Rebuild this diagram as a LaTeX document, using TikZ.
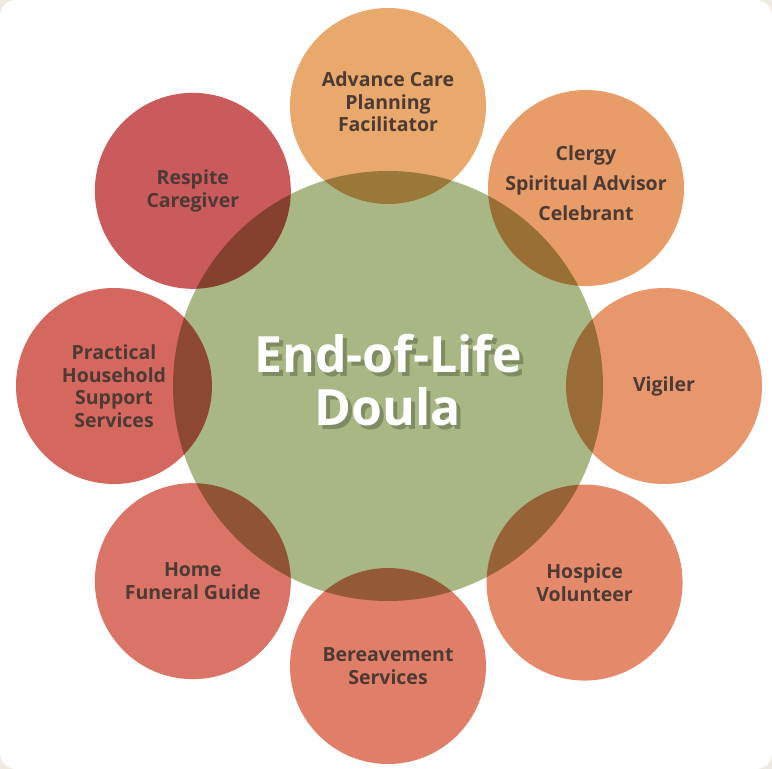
\documentclass[tikz,border=0pt]{standalone}
\usepackage{fontspec}
\setmainfont{Open Sans}
\newfontfamily\roleFont{Open Sans}
\usetikzlibrary{positioning, calc}
\definecolor{edlHub}{HTML}{A9B784}
\definecolor{edlHubShadow}{HTML}{7F8B62}
\definecolor{edlAcp}{HTML}{E9A86C}
\definecolor{edlClergy}{HTML}{E89C68}
\definecolor{edlVigil}{HTML}{E8966C}
\definecolor{edlHospice}{HTML}{E48A6A}
\definecolor{edlBereave}{HTML}{E07E68}
\definecolor{edlFuneral}{HTML}{DA7466}
\definecolor{edlPractical}{HTML}{D4675E}
\definecolor{edlRespite}{HTML}{CB5A5C}
\definecolor{edlText}{HTML}{4D3A34}
\definecolor{edlFrame}{HTML}{EFEAE0}
\tikzset{
    edlRoleBase/.style={
        circle,
        minimum size=196pt,
        inner sep=0pt,
        text=edlText,
        font=\roleFont\bfseries\fontsize{19.5}{22.5}\selectfont,
        align=center
    },
    % Role variants
    acp/.style={edlRoleBase, fill=edlAcp},
    clergy/.style={edlRoleBase, fill=edlClergy},
    vigil/.style={edlRoleBase, fill=edlVigil},
    hospice/.style={edlRoleBase, fill=edlHospice},
    bereave/.style={edlRoleBase, fill=edlBereave},
    funeral/.style={edlRoleBase, fill=edlFuneral},
    practical/.style={edlRoleBase, fill=edlPractical},
    respite/.style={edlRoleBase, fill=edlRespite},
    % Hub
    edlHubCircle/.style={circle, fill=edlHub, minimum size=430pt, inner sep=0pt},
    edlTitle/.style={
        font=\bfseries\fontsize{50}{53}\selectfont,
        align=center,
        text=white
    }
}

\begin{document}
\begin{tikzpicture}[x=1pt, y=1pt]
    \useasboundingbox (0,0) rectangle (772,769);
    \fill[edlFrame] (0,0) rectangle (772,769);
    \fill[white, rounded corners=16pt] (0,0) rectangle (772,769);
    \coordinate (mid) at (388,383);
    \node[acp] (acp) at ($(mid)+(90:280)$) {};
    \node[edlRoleBase] (acpText) at ($(acp)+(0,4)$) {Advance Care\\Planning\\Facilitator};
    \node[clergy] (clergy) at ($(mid)+(45:280)$) {};
    \node[edlRoleBase, font=\roleFont\bfseries\fontsize{19.5}{30}\selectfont] (clergyText) at ($(clergy)+(0,5)$) {Clergy\\Spiritual Advisor\\Celebrant};
    \node[vigil] (vigil) at ($(mid)+(0:276)$) {Vigiler};
    \node[hospice] (hospice) at ($(mid)+(-45:278)$) {Hospice\\Volunteer};
    \node[bereave] (bereave) at ($(mid)+(-90:280)$) {Bereavement\\Services};
    \node[funeral] (funeral) at ($(mid)+(-135:276)$) {Home\\Funeral Guide};
    \node[practical] (practical) at ($(mid)+(180:274)$) {Practical\\Household\\Support\\Services};
    \node[respite] (respite) at ($(mid)+(135:276)$) {Respite\\Caregiver};
    \begin{scope}[blend mode=multiply]
        \node[edlHubCircle] (hub) at (mid) {};
    \end{scope}
    \node[edlTitle, text=edlHubShadow] (titleShadow) at ($(hub)+(4,2)$) {End-of-Life\\Doula};
    \node[edlTitle] (title) at ($(hub)+(0,6)$) {End-of-Life\\Doula};
\end{tikzpicture}
\end{document}
